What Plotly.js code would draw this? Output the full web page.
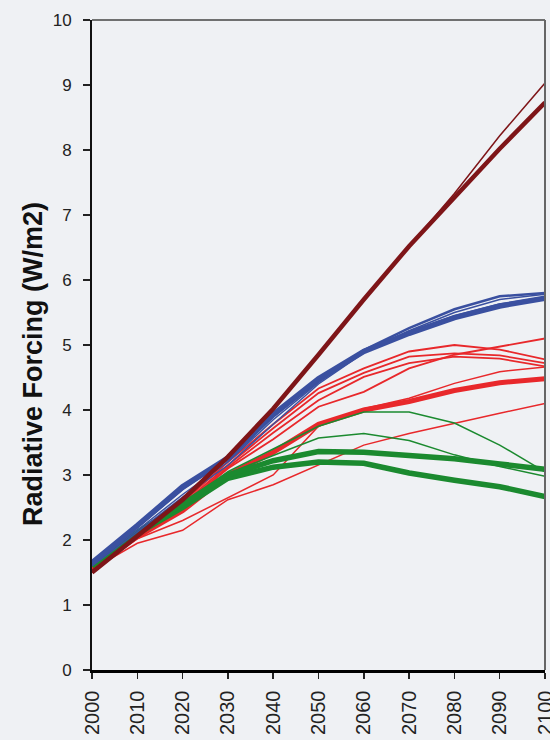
<!DOCTYPE html>
<html>
<head>
<meta charset="utf-8">
<script src="https://cdn.plot.ly/plotly-3.0.1.min.js"></script>
<style>html,body{margin:0;padding:0;background:#eff1f4;}</style>
</head>
<body>
<div id="chart" style="width:550px;height:740px;"></div>
<script>
const years = [2000, 2010, 2020, 2030, 2040, 2050, 2060, 2070, 2080, 2090, 2100];
const tickYears = [2000, 2010, 2020, 2030, 2040, 2050, 2060, 2070, 2080, 2090, 2100];
const yTitle = 'Radiative Forcing (W/m2)';

// dark red scenarios
const darkRedThick = [1.50, 2.05, 2.62, 3.28, 4.02, 4.85, 5.70, 6.52, 7.28, 8.02, 8.73];
const darkRedThin  = [1.50, 2.05, 2.62, 3.28, 4.02, 4.85, 5.70, 6.52, 7.33, 8.22, 9.03];

// blue scenarios
const blueThick  = [1.65, 2.22, 2.82, 3.26, 3.93, 4.48, 4.90, 5.18, 5.42, 5.60, 5.72];
const blueUpper  = [1.65, 2.20, 2.78, 3.25, 3.90, 4.45, 4.92, 5.26, 5.55, 5.75, 5.80];
const blueThinA  = [1.62, 2.15, 2.70, 3.20, 3.85, 4.42, 4.89, 5.20, 5.45, 5.63, 5.74];
const blueThinB  = [1.60, 2.12, 2.66, 3.15, 3.78, 4.40, 4.88, 5.22, 5.50, 5.70, 5.78];

// red scenarios
const red1 = [1.55, 2.10, 2.58, 3.20, 3.78, 4.33, 4.64, 4.90, 5.00, 4.93, 4.78];
const red2 = [1.55, 2.08, 2.52, 3.10, 3.55, 4.05, 4.28, 4.64, 4.85, 4.97, 5.10];
const red3 = [1.55, 2.10, 2.55, 3.15, 3.72, 4.26, 4.57, 4.82, 4.87, 4.84, 4.72];
const red4 = [1.55, 2.08, 2.52, 3.12, 3.65, 4.15, 4.51, 4.72, 4.82, 4.79, 4.67];
const red5 = [1.55, 2.02, 2.30, 2.65, 3.00, 3.75, 4.02, 4.18, 4.41, 4.59, 4.66];
const redThick = [1.55, 2.05, 2.45, 3.00, 3.35, 3.78, 4.00, 4.13, 4.30, 4.42, 4.48];
const redLow = [1.55, 1.95, 2.15, 2.62, 2.85, 3.15, 3.46, 3.64, 3.80, 3.95, 4.10];

// green scenarios
const green1 = [1.62, 2.12, 2.55, 3.00, 3.22, 3.36, 3.35, 3.31, 3.25, 3.17, 3.09];
const green2 = [1.60, 2.10, 2.50, 2.95, 3.12, 3.20, 3.18, 3.03, 2.92, 2.82, 2.67];
const green3 = [1.62, 2.12, 2.55, 3.05, 3.40, 3.75, 3.97, 3.97, 3.80, 3.46, 3.05];
const green4 = [1.60, 2.10, 2.52, 3.02, 3.30, 3.57, 3.64, 3.53, 3.31, 3.13, 2.98];

const DR = '#7e1518', BL = '#3a50a0', RD = '#e8282b', GR = '#1b8a2f';

function tr(y, color, width) {
  return {x: years, y: y, type: 'scatter', mode: 'lines',
          line: {color: color, width: width}, hoverinfo: 'skip', showlegend: false};
}

const data = [
  tr(redLow, RD, 1.5),
  tr(red5, RD, 1.5),
  tr(red2, RD, 1.8),
  tr(red4, RD, 1.8),
  tr(red3, RD, 1.8),
  tr(red1, RD, 1.8),
  tr(redThick, RD, 5),
  tr(green4, GR, 1.5),
  tr(green3, GR, 1.5),
  tr(green2, GR, 5.5),
  tr(green1, GR, 5.5),
  tr(blueThinB, BL, 1.5),
  tr(blueThinA, BL, 1.5),
  tr(blueUpper, BL, 2.5),
  tr(blueThick, BL, 5.5),
  tr(darkRedThin, DR, 1.5),
  tr(darkRedThick, DR, 4.5)
];

const layout = {
  width: 550, height: 740,
  margin: {l: 92, r: 5, t: 20, b: 70},
  paper_bgcolor: '#eff1f4',
  plot_bgcolor: '#eff1f4',
  font: {family: 'Arial, "Liberation Sans", sans-serif', color: '#222'},
  xaxis: {
    range: [2000, 2100], tickvals: tickYears, ticktext: tickYears.map(String),
    tickangle: -90, ticks: 'outside', ticklen: 6, tickwidth: 1.5, tickcolor: '#222',
    showline: true, linecolor: '#000', linewidth: 2.5, showgrid: false, zeroline: false,
    tickfont: {size: 20, color: '#222'}, ticklabeloverflow: 'allow', ticklabelstandoff: 4,
    fixedrange: true
  },
  yaxis: {
    range: [0, 10], tickvals: [0,1,2,3,4,5,6,7,8,9,10], ticks: 'outside', ticklen: 7,
    tickwidth: 1.5, tickcolor: '#222',
    showline: true, linecolor: '#111', linewidth: 2, showgrid: false, zeroline: false,
    tickfont: {size: 17, color: '#222'}, ticklabelstandoff: 8,
    fixedrange: true
  },
  annotations: [
    {text: '<b>' + yTitle + '</b>', xref: 'paper', yref: 'paper',
     x: -0.130, y: 0.471, xanchor: 'center', yanchor: 'middle', textangle: -90,
     showarrow: false, font: {size: 27, color: '#111'}}
  ],
  shapes: [
    {type: 'line', xref: 'paper', yref: 'paper', x0: 0, x1: 1, y0: 1, y1: 1,
     line: {color: '#444', width: 1.5}},
    {type: 'line', xref: 'paper', yref: 'paper', x0: 1, x1: 1, y0: 0, y1: 1,
     line: {color: '#666', width: 2}}
  ]
};

Plotly.newPlot('chart', data, layout, {displayModeBar: false, staticPlot: true});
</script>
</body>
</html>
